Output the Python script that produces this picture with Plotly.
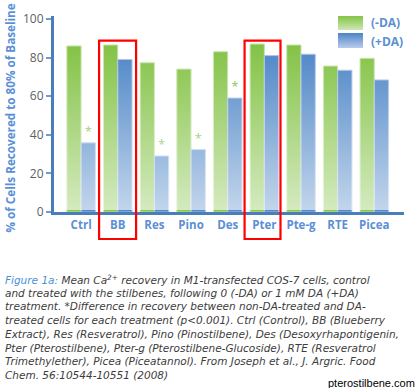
import base64
import plotly.graph_objects as go

categories = ["Ctrl", "BB", "Res", "Pino", "Des", "Pter", "Pte-g", "RTE", "Picea"]
minus_da = [86, 86.5, 77.3, 74, 83, 87, 86.5, 75.6, 79.6]
plus_da = [35.8, 79, 29, 32.3, 59, 81, 81.7, 73.4, 68.4]
significance = ["*", "", "*", "*", "*", "", "", "", ""]
y_ticks = [0, 20, 40, 60, 80, 100]
highlighted = ["BB", "Pter"]
y_title = "% of Cells Recovered to 80% of Baseline"
caption_lines = [
    "<span style='color:#4a8fd6'>Figure 1a:</span> Mean Ca<sup>2+</sup> recovery in M1-transfected COS-7 cells, control",
    "and treated with the stilbenes, following 0 (-DA) or 1 mM DA (+DA)",
    "treatment. *Difference in recovery between non-DA-treated and DA-",
    "treated cells for each treatment (p&lt;0.001). Ctrl (Control), BB (Blueberry",
    "Extract), Res (Resveratrol), Pino (Pinostilbene), Des (Desoxyrhapontigenin,",
    "Pter (Pterostilbene), Pter-g (Pterostilbene-Glucoside), RTE (Resveratrol",
    "Trimethylether), Picea (Piceatannol). From Joseph et al., J. Argric. Food",
    "Chem. 56:10544-10551 (2008)",
]

GREEN = "#82c244"
BLUE = "#4b84c6"
AXIS = "#4a7ebb"
LABEL_BLUE = "#5b8fd6"
FONT = "Open Sans"


def grad_svg(top, bottom, top_op, bot_op):
    svg = (
        '<svg xmlns="http://www.w3.org/2000/svg" width="10" height="100" viewBox="0 0 10 100" preserveAspectRatio="none">'
        '<defs><linearGradient id="g" x1="0" y1="0" x2="0" y2="1">'
        f'<stop offset="0" stop-color="{top}" stop-opacity="{top_op}"/>'
        f'<stop offset="1" stop-color="{bottom}" stop-opacity="{bot_op}"/>'
        '</linearGradient></defs><rect x="0" y="0" width="10" height="100" fill="url(#g)"/></svg>'
    )
    return "data:image/svg+xml;base64," + base64.b64encode(svg.encode()).decode()


fig = go.Figure()
fig.add_trace(go.Bar(x=categories, y=minus_da, name="(-DA)", marker=dict(color=GREEN, line=dict(color="#c9e5ab", width=1))))
fig.add_trace(go.Bar(x=categories, y=plus_da, name="(+DA)", marker=dict(color=BLUE, line=dict(color="#aac2e6", width=1)),
                     text=significance, textposition="outside", cliponaxis=False,
                     textfont=dict(color="#74bb3e", size=13, family=FONT)))

H = 196.0
def py(p):
    return (212 - p) / H
def px(p):
    return (p - 54) / 350.0

images = [
    dict(source=grad_svg("#ffffff", "#ffffff", 0, 0.66), xref="paper", yref="y", x=0.012, y=88,
         sizex=0.988, sizey=87.1, sizing="stretch", xanchor="left", yanchor="top", layer="above"),
    dict(source=grad_svg("#84c446", "#cde7b3", 1, 1), xref="paper", yref="paper", x=px(338), y=py(16),
         sizex=px(363) - px(338), sizey=py(16) - py(30), sizing="stretch", xanchor="left", yanchor="top", layer="above"),
    dict(source=grad_svg("#4b84c6", "#b9cbec", 1, 1), xref="paper", yref="paper", x=px(338), y=py(33),
         sizex=px(363) - px(338), sizey=py(33) - py(48), sizing="stretch", xanchor="left", yanchor="top", layer="above"),
]

shapes = []
offsets = {"BB": (-0.51, 0.5), "Pter": (-0.54, 0.44)}
for c in highlighted:
    i = categories.index(c)
    shapes.append(dict(type="rect", xref="x", yref="paper", x0=i + offsets[c][0], x1=i + offsets[c][1],
                       y0=py(239), y1=py(40.7), line=dict(color="#ff0000", width=2.2)))

annotations = [
    dict(text="<b>" + y_title + "</b>", xref="paper", yref="paper", x=px(9), y=py(118.5), textangle=-90,
         xanchor="center", yanchor="middle", showarrow=False, font=dict(color=LABEL_BLUE, size=11.7, family=FONT)),
    dict(text="<b>(-DA)</b>", xref="paper", yref="paper", x=px(369), y=py(23), xanchor="left", yanchor="middle",
         showarrow=False, font=dict(color=LABEL_BLUE, size=12, family=FONT)),
    dict(text="<b>(+DA)</b>", xref="paper", yref="paper", x=px(369), y=py(41), xanchor="left", yanchor="middle",
         showarrow=False, font=dict(color=LABEL_BLUE, size=12, family=FONT)),
    dict(text="pterostilbene.com", xref="paper", yref="paper", x=px(417), y=py(383), xanchor="right", yanchor="middle",
         showarrow=False, font=dict(color="#000000", size=11, family="Liberation Sans")),
]
for k, line in enumerate(caption_lines):
    annotations.append(dict(text="<i>" + line + "</i>", xref="paper", yref="paper", x=px(4), y=py(279 + 13.7 * k),
                            xanchor="left", yanchor="middle", align="left", showarrow=False, borderpad=0,
                            font=dict(color="#3c3c3c", size=10.5, family="DejaVu Sans")))

fig.update_layout(
    width=418, height=388,
    margin=dict(l=54, r=14, t=16, b=176),
    paper_bgcolor="white", plot_bgcolor="white",
    barmode="group", bargap=0.22, bargroupgap=0,
    showlegend=False,
    images=images, shapes=shapes, annotations=annotations,
    font=dict(family=FONT),
)
fig.update_xaxes(type="category", range=[-0.74, 8.81], showline=True, linecolor=AXIS, linewidth=3,
                 ticks="", showgrid=False, zeroline=False, automargin=False,
                 tickfont=dict(color=LABEL_BLUE, size=11.5, family=FONT, weight="bold"))
fig.update_yaxes(range=[0, 101.5], tickvals=y_ticks, showline=True, linecolor=AXIS, linewidth=3,
                 ticks="outside", ticklen=5, tickwidth=1.5, tickcolor="#6f9bd4", showgrid=False, zeroline=False,
                 automargin=False,
                 tickfont=dict(color="#5f5f5f", size=12, family=FONT))

fig.write_html("out.html", config={"displayModeBar": False},
               post_script="document.body.style.margin='0';document.body.style.overflow='hidden';")
